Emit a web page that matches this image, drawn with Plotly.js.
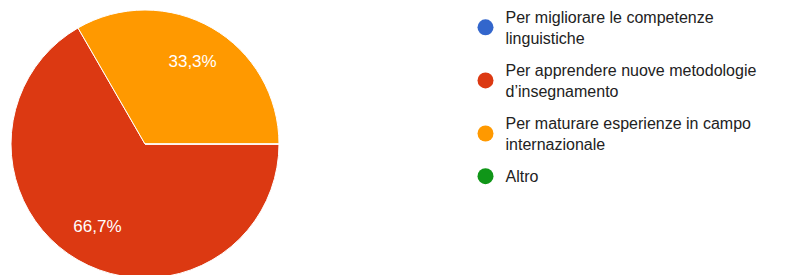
<!DOCTYPE html>
<html>
<head>
<meta charset="utf-8">
<script src="https://cdn.plot.ly/plotly-3.0.1.min.js"></script>
<style>
html,body{margin:0;padding:0;background:#fff;overflow:hidden;width:790px;height:275px;}
#chart{width:790px;height:288px;}
</style>
</head>
<body>
<div id="chart"></div>
<script>
const categories = [
  "Per migliorare le competenze linguistiche",
  "Per apprendere nuove metodologie d’insegnamento",
  "Per maturare esperienze in campo internazionale",
  "Altro"
];
const legendLabels = [
  "Per migliorare le competenze<br>linguistiche",
  "Per apprendere nuove metodologie<br>d’insegnamento",
  "Per maturare esperienze in campo<br>internazionale",
  "Altro"
];
const values = [0, 2, 1, 0];
const colors = ["#3366cc", "#dc3912", "#ff9900", "#109618"];

const W = 790, H = 288;
const pieDomain = {x: [11 / W, 279 / W], y: [0, 1]};
const pie = {
  type: "pie",
  labels: categories,
  values: values,
  sort: false,
  direction: "clockwise",
  rotation: 90,
  marker: {colors: colors, line: {color: "#ffffff", width: 1}},
  textinfo: "none",
  hoverinfo: "none",
  showlegend: false,
  domain: pieDomain
};
// transparent ring carrying the percentage labels (places them further out)
const labelRing = {
  type: "pie",
  labels: categories,
  values: values,
  sort: false,
  direction: "clockwise",
  rotation: 90,
  hole: 0.42,
  marker: {colors: colors.map(() => "rgba(0,0,0,0)"), line: {width: 0}},
  texttemplate: values.map(v => v > 0 ? "%{percent:.1%}" : ""),
  textposition: "inside",
  insidetextorientation: "horizontal",
  textfont: {family: "Liberation Sans, Arial, sans-serif", size: 17, color: "#ffffff"},
  hoverinfo: "none",
  showlegend: false,
  domain: pieDomain
};
const legendTraces = legendLabels.map((name, i) => ({
  type: "scatter",
  mode: "markers",
  x: [null], y: [null],
  name: name,
  marker: {color: colors[i], size: 16, symbol: "circle"},
  hoverinfo: "none",
  showlegend: true,
  legendgroup: "g" + i
}));

Plotly.newPlot("chart", [pie, labelRing].concat(legendTraces), {
  width: W, height: H,
  margin: {l: 0, r: 0, t: 0, b: 0},
  paper_bgcolor: "#ffffff",
  plot_bgcolor: "#ffffff",
  xaxis: {visible: false},
  yaxis: {visible: false},
  showlegend: true,
  separators: ",.",
  legend: {
    x: 465.5 / W, xanchor: "left",
    y: 1, yanchor: "top",
    font: {family: "Liberation Sans, Arial, sans-serif", size: 16, color: "#222222"},
    tracegroupgap: 8.5,
    itemclick: false, itemdoubleclick: false,
    bgcolor: "rgba(0,0,0,0)"
  }
}, {staticPlot: true});
</script>
</body>
</html>
